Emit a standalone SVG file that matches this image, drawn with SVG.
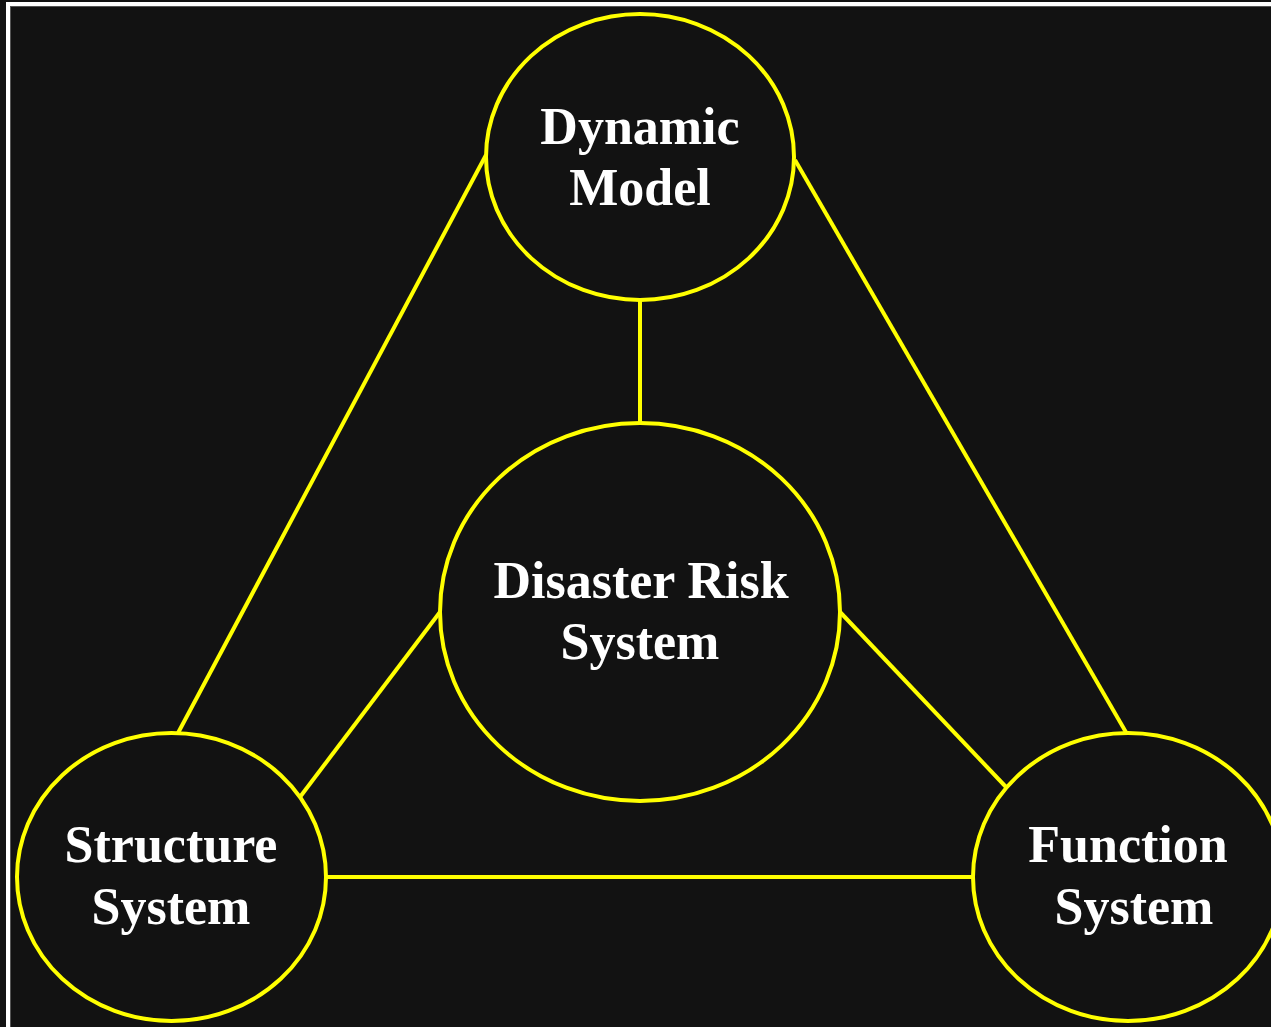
<svg xmlns="http://www.w3.org/2000/svg" width="1271" height="1027" viewBox="0 0 1271 1027">
<style>
.node{fill:#121212;stroke:#ffff00;stroke-width:4}
.edge{stroke:#ffff00;stroke-width:4;fill:none}
.lbl{font-family:"Liberation Serif","Times New Roman",serif;font-weight:bold;font-size:52px;fill:#ffffff;text-anchor:middle}
</style>
<rect x="0" y="0" width="1271" height="1027" fill="#121212"/>
<rect x="8" y="4" width="1300" height="1100" fill="none" stroke="#ffffff" stroke-width="4"/>
<rect x="10.5" y="6.5" width="1300" height="1100" fill="none" stroke="#555555" stroke-width="1"/>
<g id="connectors">
<line class="edge" x1="486" y1="155" x2="178" y2="733"/>
<line class="edge" x1="795" y1="160" x2="1127" y2="734"/>
<line class="edge" x1="640" y1="300" x2="640" y2="422"/>
<line class="edge" x1="440" y1="612" x2="300" y2="797"/>
<line class="edge" x1="840" y1="612" x2="1006" y2="787"/>
<line class="edge" x1="326" y1="877" x2="972" y2="877"/>
</g>
<g id="dynamic-model">
<ellipse class="node" cx="640" cy="157" rx="154" ry="143"/>
<text class="lbl" x="640" y="144">Dynamic</text>
<text class="lbl" x="640" y="205">Model</text>
</g>
<g id="disaster-risk-system">
<ellipse class="node" cx="640" cy="612" rx="200" ry="189"/>
<text class="lbl" x="641" y="598">Disaster Risk</text>
<text class="lbl" x="640" y="659">System</text>
</g>
<g id="structure-system">
<ellipse class="node" cx="171.5" cy="877" rx="154.5" ry="144"/>
<text class="lbl" x="171" y="862">Structure</text>
<text class="lbl" x="171" y="924">System</text>
</g>
<g id="function-system">
<ellipse class="node" cx="1128" cy="877" rx="155" ry="144"/>
<text class="lbl" x="1128" y="862">Function</text>
<text class="lbl" x="1134" y="924">System</text>
</g>
</svg>
